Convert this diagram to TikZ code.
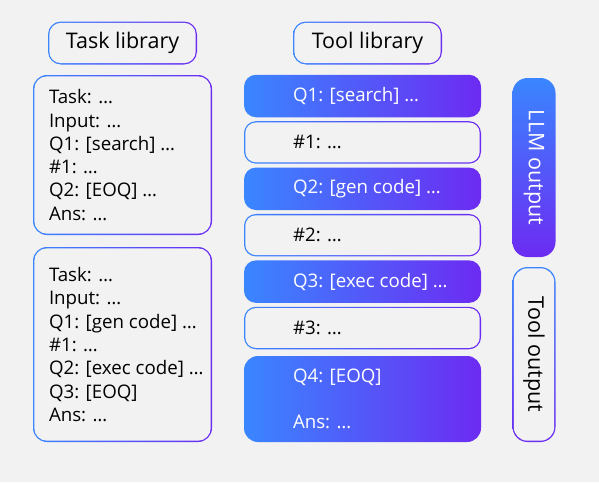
\documentclass[tikz,border=0pt]{standalone}
\usepackage{fontspec}
\setmainfont{Open Sans}
\usepackage{tikz}
\usetikzlibrary{positioning}
\definecolor{PanelGray}{HTML}{F2F2F2}
\definecolor{GradBlue}{HTML}{3A86FF}
\definecolor{GradPurple}{HTML}{6C2BF2}
\newcommand{\headfont}{\fontsize{21.5}{25}\selectfont}
\newcommand{\cellfont}{\fontsize{18.7}{23.3}\selectfont}

\tikzset{
  ringh/.style={rounded corners=#1, inner sep=0pt, path picture={
      \shade[left color=GradBlue, right color=GradPurple]
        (path picture bounding box.south west) rectangle (path picture bounding box.north east);
      \fill[PanelGray, rounded corners=#1-1.3pt]
        ([shift={(1.3pt,1.3pt)}]path picture bounding box.south west) rectangle
        ([shift={(-1.3pt,-1.3pt)}]path picture bounding box.north east);}},
  ringv/.style={rounded corners=#1, inner sep=0pt, path picture={
      \shade[top color=GradBlue, bottom color=GradPurple]
        (path picture bounding box.south west) rectangle (path picture bounding box.north east);
      \fill[PanelGray, rounded corners=#1-1.3pt]
        ([shift={(1.3pt,1.3pt)}]path picture bounding box.south west) rectangle
        ([shift={(-1.3pt,-1.3pt)}]path picture bounding box.north east);}},
  toolbox/.style={ringh=12pt},
  llmbox/.style={rounded corners=12pt, inner sep=0pt, left color=GradBlue, right color=GradPurple},
  txt/.style={inner sep=0pt, align=left, anchor=west, font=\cellfont},
  tagtext/.style={inner sep=0pt, rotate=-90, font=\headfont}
}

\begin{document}
\begin{tikzpicture}[x=1pt, y=-1pt]
  % canvas
  \fill[PanelGray] (0,0) rectangle (599,482);
  \useasboundingbox (0,0) rectangle (599,482);

  % headers
  \node[ringh=13pt, minimum width=149pt, minimum height=43pt, font=\headfont] (tasklib) at (122.5,43) {Task library};
  \node[ringh=13pt, minimum width=149pt, minimum height=43pt, font=\headfont] (toollib) at (367.5,43) {Tool library};

  % task library
  \node[ringh=14pt, minimum width=179pt, minimum height=160pt] (taskA) at (122.5,155) {};
  \node[txt] (taskAtext) at ([xshift=16pt]taskA.west)
    {Task: …\\Input: …\\Q1: [search] …\\\#1: …\\Q2: [EOQ] …\\Ans: …};
  \node[ringh=14pt, minimum width=179pt, minimum height=195pt] (taskB) at (122.5,344.5) {};
  \node[txt] (taskBtext) at ([xshift=16pt]taskB.west)
    {Task: …\\Input: …\\Q1: [gen code] …\\\#1: …\\Q2: [exec code] …\\Q3: [EOQ]\\Ans: …};

  % tool library
  \foreach \yc/\kind/\txt/\tc [count=\i] in {
      96/llmbox/{Q1: [search] …}/white,
      142.4/toolbox/{\#1: …}/black,
      188.8/llmbox/{Q2: [gen code] …}/white,
      235.2/toolbox/{\#2: …}/black,
      281.6/llmbox/{Q3: [exec code] …}/white,
      328/toolbox/{\#3: …}/black}
  {
    \node[\kind, minimum width=237pt, minimum height=42.5pt] (call\i) at (362.5,\yc) {};
    \node[txt, text=\tc] (call\i text) at ([xshift=49pt]call\i.west) {\txt};
  }
  \node[llmbox, rounded corners=14pt, minimum width=237pt, minimum height=86pt] (final) at (362.5,399) {};
  \node[txt, text=white] (finaltext) at ([xshift=49pt]final.west) {Q4: [EOQ]\\[23.3pt]Ans: …};

  % legend
  \node[rounded corners=15pt, inner sep=0pt, top color=GradBlue, bottom color=GradPurple,
        minimum width=43pt, minimum height=179pt] (llmtag) at (534,167.5) {};
  \node[tagtext, text=white] (llmtagtext) at (llmtag) {LLM output};
  \node[ringv=15pt, minimum width=43pt, minimum height=175pt] (tooltag) at (534,354.5) {};
  \node[tagtext] (tooltagtext) at (tooltag) {Tool output};
\end{tikzpicture}
\end{document}
